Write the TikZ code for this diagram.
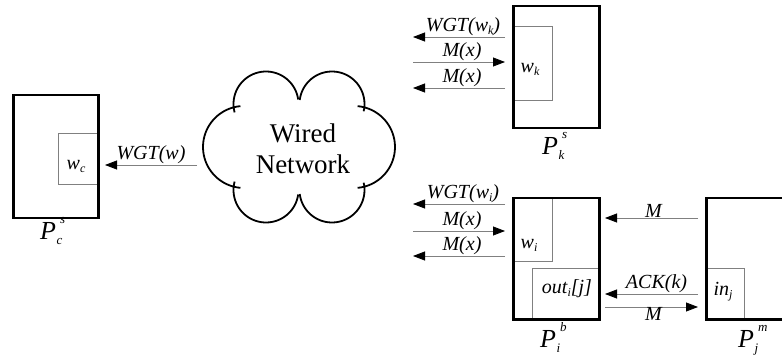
\documentclass[tikz,border=0pt]{standalone}
\usepackage{fontspec}
\setmainfont{Liberation Serif}
\usetikzlibrary{arrows.meta}
\newcommand{\lsb}[1]{\raisebox{-3pt}{\fontsize{12}{12}\selectfont #1}}
\newcommand{\plbl}[2]{P\rlap{\kern0.5pt\raisebox{-5pt}{\fontsize{13}{13}\selectfont #1}}\kern4pt\raisebox{16pt}{\fontsize{13}{13}\selectfont #2}}
\tikzset{
 outerbox/.style={draw=black, line width=2.5pt, inner sep=0pt, anchor=north west},
 innerbox/.style={draw=black!50, line width=0.8pt, inner sep=0pt, anchor=north west},
 msg/.style={draw=black!50, line width=0.8pt, -{Triangle[length=12pt,width=9pt,color=black]}},
 lab/.style={font=\fontsize{20}{22}\selectfont\itshape, inner sep=0.5pt},
 plab/.style={font=\fontsize{26}{28}\selectfont\itshape, inner sep=0pt, anchor=base west},
 cloudline/.style={draw=black, line width=1.8pt},
 nettext/.style={font=\fontsize{27}{31}\selectfont, align=center, inner sep=0pt}
}
\begin{document}
\begin{tikzpicture}[x=1pt,y=-1pt]
\useasboundingbox (0,0) rectangle (782,358);
% ---------- P_c ----------
\node[innerbox, minimum width=39pt, minimum height=51pt] (wcbox) at (58,133) {};
\node[outerbox, minimum width=85pt, minimum height=123pt] (Pc) at (12,94) {};
\node[lab] (wc) at (76,166) {w\lsb{c}};
\node[plab] (Pclab) at (40,240) {\plbl{c}{s}};
% ---------- cloud ----------
\draw[cloudline] plot[domain=165:352, samples=40] ({266+32.5*cos(\x)},{104+32.5*sin(\x)});
\draw[cloudline] plot[domain=187:373, samples=40] ({332+32.5*cos(\x)},{104+32.5*sin(\x)});
\draw[cloudline] plot[domain=-85:85, samples=40] ({354+41*cos(\x)},{147+41*sin(\x)});
\draw[cloudline] plot[domain=-13:173, samples=40] ({332+32.5*cos(\x)},{190+32.5*sin(\x)});
\draw[cloudline] plot[domain=8:195, samples=40] ({266+32.5*cos(\x)},{190+32.5*sin(\x)});
\draw[cloudline] plot[domain=95:265, samples=40] ({244+41*cos(\x)},{147+41*sin(\x)});
\node[nettext] (net) at (303,149) {Wired\\Network};
% WGT(w)
\coordinate (cR) at (197,165);
\coordinate (cL) at (105,165);
\draw[msg] (cR) -- node[lab, above] (lc) {WGT(w)} (cL);
% ---------- P_k ----------
\node[innerbox, minimum width=40pt, minimum height=74pt] (wkbox) at (512,26) {};
\node[outerbox, minimum width=86pt, minimum height=122pt] (Pk) at (512,5) {};
\node[lab] (wk) at (530,69) {w\lsb{k}};
\node[plab] (Pklab) at (542,155) {\plbl{k}{s}};
\coordinate (k1R) at (505,37); \coordinate (k1L) at (413,37);
\coordinate (k2R) at (505,62); \coordinate (k2L) at (413,62);
\coordinate (k3R) at (505,88); \coordinate (k3L) at (413,88);
\draw[msg] (k1R) -- node[lab, above, xshift=4pt] (lk1) {WGT(w\lsb{k})} (k1L);
\draw[msg] (k2L) -- node[lab, above, xshift=3pt] (lk2) {M(x)} (k2R);
\draw[msg] (k3R) -- node[lab, above, xshift=3pt] (lk3) {M(x)} (k3L);
% ---------- P_i ----------
\node[innerbox, minimum width=40pt, minimum height=64pt] (wibox) at (512,197) {};
\node[innerbox, minimum width=66pt, minimum height=50pt] (outbox) at (532,268) {};
\node[outerbox, minimum width=86pt, minimum height=121pt] (Pi) at (512,197) {};
\node[lab] (wi) at (529,245) {w\lsb{i}};
\node[lab] (out) at (567,289) {out\lsb{i}[j]};
\node[plab] (Pilab) at (540,347) {\plbl{i}{b}};
\coordinate (i1R) at (505,204); \coordinate (i1L) at (413,204);
\coordinate (i2R) at (505,231); \coordinate (i2L) at (413,231);
\coordinate (i3R) at (505,256); \coordinate (i3L) at (413,256);
\draw[msg] (i1R) -- node[lab, above, xshift=4pt] (li1) {WGT(w\lsb{i})} (i1L);
\draw[msg] (i2L) -- node[lab, above, xshift=3pt] (li2) {M(x)} (i2R);
\draw[msg] (i3R) -- node[lab, above, xshift=3pt] (li3) {M(x)} (i3L);
% ---------- P_j ----------
\begin{scope}
\clip (0,0) rectangle (782,358);
\node[innerbox, minimum width=39pt, minimum height=50pt] (inbox) at (705,268) {};
\node[outerbox, minimum width=100pt, minimum height=121pt] (Pj) at (705,197) {};
\end{scope}
\node[lab] (inj) at (723,292) {in\lsb{j}};
\node[plab] (Pjlab) at (738,347) {\plbl{j}{m}};
\coordinate (j1R) at (698,218); \coordinate (j1L) at (605,218);
\coordinate (j2R) at (698,294); \coordinate (j2L) at (605,294);
\coordinate (j3R) at (698,307); \coordinate (j3L) at (605,307);
\draw[msg] (j1R) -- node[lab, above, xshift=2pt] (lj1) {M} (j1L);
\draw[msg] (j2R) -- node[lab, above, xshift=5pt] (lj2) {ACK(k)} (j2L);
\draw[msg] (j3L) -- node[lab, below, xshift=2pt] (lj3) {M} (j3R);
\end{tikzpicture}
\end{document}
